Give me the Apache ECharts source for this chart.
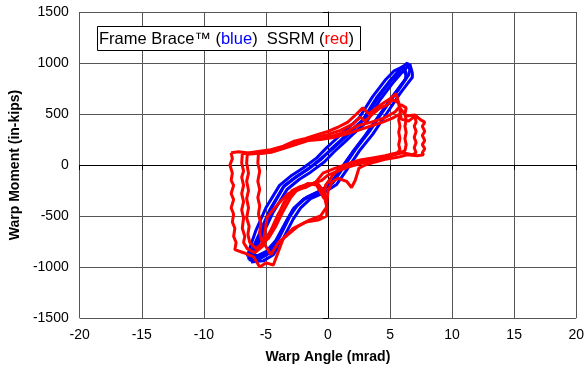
<!DOCTYPE html>
<html>
<head>
<meta charset="utf-8">
<script src="https://cdn.jsdelivr.net/npm/echarts@6/dist/echarts.min.js"></script>
<style>
  html, body {margin: 0; padding: 0; background: #fff;}
  #chart {width: 587px; height: 373px;}
</style>
</head>
<body>
<div id="chart"></div>
<script>
// axis ticks
const xTicks = [-20, -15, -10, -5, 0, 5, 10, 15, 20];
const yTicks = [-1500, -1000, -500, 0, 500, 1000, 1500];

// Frame Brace (blue) - traced cycles, [warp angle mrad, warp moment in-kips]
const blueCycle1 = [[-6.4,-930],[-6.0,-800],[-5.5,-666],[-4.7,-441],[-3.6,-216],[-2.6,-120],[-1.7,-49],[-0.6,50],[0.2,150],[1.0,240],[1.7,323],[2.8,440],[3.9,657],[4.9,813],[5.6,910],[6.0,960],[6.4,1000],
  [6.6,930],[6.5,882],[6.0,800],[5.5,715],[4.4,520],[3.3,323],[2.3,167],[1.2,-30],[0.4,-176],[-0.6,-250],[-1.7,-314],[-2.5,-400],[-3.1,-510],[-3.9,-706],[-4.7,-862],[-5.5,-920],[-6.4,-930]];
const blueCycle2 = [[-6.5,-900],[-6.2,-780],[-5.8,-640],[-5.0,-420],[-3.9,-200],[-2.9,-100],[-2.0,-30],[-0.9,70],[-0.1,170],[0.7,260],[1.4,340],[2.5,460],[3.6,670],[4.6,830],[5.3,920],[5.8,950],[6.1,970],
  [6.3,900],[6.3,850],[5.8,770],[5.3,690],[4.2,500],[3.1,300],[2.1,140],[1.0,-50],[0.2,-190],[-0.8,-265],[-1.9,-330],[-2.7,-420],[-3.3,-540],[-4.1,-730],[-4.9,-870],[-5.7,-910],[-6.5,-900]];
const blueCycle3 = [[-6.2,-950],[-5.8,-820],[-5.3,-690],[-4.4,-460],[-3.3,-240],[-2.3,-140],[-1.4,-70],[-0.3,30],[0.5,130],[1.3,220],[2.0,300],[3.1,420],[4.2,640],[5.2,800],[5.9,900],[6.3,950],[6.6,990],
  [6.8,900],[6.8,860],[6.3,780],[5.8,700],[4.7,500],[3.6,300],[2.6,150],[1.5,-50],[0.7,-190],[-0.3,-270],[-1.4,-330],[-2.2,-420],[-2.8,-530],[-3.6,-720],[-4.4,-880],[-5.2,-940],[-6.2,-950]];
const blueCycle4 = [[-6.0,-880],[-5.7,-760],[-5.2,-620],[-4.5,-410],[-3.5,-200],[-2.5,-110],[-1.5,-30],[-0.5,70],[0.4,160],[1.2,250],[1.9,330],[3.0,460],[4.1,670],[5.1,830],[5.7,900],[6.1,930],[6.2,940],
  [6.3,880],[6.2,830],[5.7,740],[5.2,660],[4.1,480],[3.0,290],[2.0,130],[0.9,-60],[0.1,-200],[-0.9,-280],[-2.0,-340],[-2.8,-430],[-3.4,-560],[-4.2,-740],[-5.0,-850],[-5.7,-890],[-6.0,-880]];

// SSRM (red) - traced cycles
const redCycle1 = [[-7.8,120],[-7.2,130],[-6.4,118],[-5.5,135],[-4.6,150],[-3.6,185],[-2.8,230],[-1.8,260],[-0.8,300],[0,330],[0.8,370],[1.6,420],[2.3,500],[2.8,560],[3.3,500],[3.9,560],[4.5,610],[5.0,650],[5.5,700],[5.8,560],[6.3,480],[7.0,490],[7.5,440],
  [7.8,420],[7.6,380],[7.8,330],[7.6,290],[7.8,240],[7.6,200],[7.8,160],[7.6,120],[7.7,100],[7.2,90],[6.4,100],[5.6,75],[4.6,55],[3.8,30],[3.0,0],[2.5,-30],[2.2,-150],[1.9,-220],[1.5,-160],[0.8,-130],[0.3,-170],[0,-260],[-0.1,-380],[-0.1,-500],
  [-0.8,-540],[-1.8,-560],[-2.8,-620],[-3.6,-720],[-4.0,-850],[-4.4,-980],[-5.0,-960],[-5.5,-1000],[-6.0,-900],[-6.8,-860],[-7.5,-830],
  [-7.4,-760],[-7.6,-700],[-7.5,-620],[-7.7,-560],[-7.6,-480],[-7.8,-420],[-7.6,-340],[-7.8,-280],[-7.6,-200],[-7.8,-150],[-7.7,-80],[-7.9,0],[-7.7,60],[-7.8,120]];
const redCycle2 = [[-6.9,110],[-6.0,120],[-5.0,130],[-4.0,160],[-3.0,200],[-2.0,240],[-1.0,270],[0,300],[1.0,340],[2.0,400],[2.6,470],[3.0,430],[3.6,500],[4.2,560],[4.8,590],[5.2,640],[5.7,610],[5.9,450],[6.5,430],[7.0,480],
  [7.1,420],[6.95,380],[7.1,330],[6.95,270],[7.1,220],[6.95,170],[7.1,120],[6.8,100],[6.0,120],[5.2,100],[4.3,70],[3.4,40],[2.5,10],[1.6,-20],[0.8,-60],[0,-100],[-0.5,-150],[-1.2,-180],[-2.2,-210],[-2.9,-250],[-3.6,-380],[-4.2,-560],[-4.8,-700],[-5.3,-800],[-5.9,-860],[-6.5,-820],
  [-6.8,-760],[-6.7,-700],[-6.9,-620],[-6.8,-520],[-6.95,-440],[-6.8,-360],[-6.95,-280],[-6.8,-200],[-6.95,-120],[-6.8,-60],[-6.95,20],[-6.9,110]];
const redCycle3 = [[-6.5,105],[-5.5,115],[-4.5,130],[-3.5,170],[-2.5,210],[-1.5,250],[-0.5,260],[0.5,290],[1.5,330],[2.5,390],[3.5,420],[4.5,460],[5.4,520],[5.9,590],[6.3,560],
  [6.2,500],[6.3,440],[6.2,380],[6.3,320],[6.2,260],[6.3,200],[6.2,140],[5.6,110],[4.8,80],[3.6,60],[2.6,40],[1.6,10],[0.6,-30],[-0.4,-80],[-1.0,-170],[-1.8,-220],[-2.6,-240],[-3.3,-330],[-4.0,-480],[-4.6,-640],[-5.2,-760],[-5.8,-820],
  [-6.3,-760],[-6.45,-680],[-6.35,-600],[-6.55,-520],[-6.4,-420],[-6.55,-330],[-6.4,-250],[-6.55,-160],[-6.4,-80],[-6.55,20],[-6.5,105]];
const redCycle4 = [[-5.6,110],[-4.6,125],[-3.6,160],[-2.6,200],[-1.6,240],[-0.6,250],[0.4,270],[1.4,300],[2.4,340],[3.4,380],[4.4,420],[5.2,460],[5.8,500],
  [5.7,440],[5.8,380],[5.7,320],[5.8,260],[5.7,200],[5.8,150],[5.6,120],[4.6,90],[3.6,70],[2.6,50],[1.8,20],[1.0,-20],[0.4,-100],[-0.2,-200],[-0.3,-330],[-0.9,-200],[-1.6,-180],[-2.4,-230],[-3.0,-320],[-3.6,-450],[-4.2,-600],[-4.8,-720],[-5.3,-760],
  [-5.5,-660],[-5.4,-580],[-5.6,-480],[-5.5,-400],[-5.65,-320],[-5.5,-240],[-5.65,-160],[-5.5,-60],[-5.65,20],[-5.6,110]];
const redCycle5 = [[-5.2,-760],[-4.9,-510],[-4.0,-380],[-3.2,-280],[-2.3,-240],[-1.5,-190],[-0.9,-170],[-0.4,-250],[-0.1,-410],[-0.6,-500],[-1.5,-540],[-2.4,-600],[-3.2,-680],[-4.0,-760],[-4.6,-880],[-5.2,-760]];

const blueCycles = [blueCycle1, blueCycle2, blueCycle3, blueCycle4];
const redCycles = [redCycle1, redCycle2, redCycle3, redCycle4, redCycle5];

const chart = echarts.init(document.getElementById("chart"), null, {renderer: "canvas"});

const makeSeries = (data, color, width) => ({
  type: "line",
  data: data,
  showSymbol: false,
  silent: true,
  lineStyle: {color: color, width: width},
});

const gridColor = "#555";
const font = "'Liberation Sans', Arial, sans-serif";

const option = {
  animation: false,
  backgroundColor: "#fff",
  grid: {left: 79, right: 9, top: 12, bottom: 55},
  xAxis: {
    type: "value",
    min: xTicks[0],
    max: xTicks[xTicks.length - 1],
    interval: 5,
    name: "Warp Angle (mrad)",
    nameLocation: "middle",
    nameGap: 32,
    nameTextStyle: {fontFamily: font, fontSize: 14, fontWeight: "bold", color: "#000"},
    axisLine: {lineStyle: {color: "#000", width: 1}},
    axisTick: {show: true, length: 5, lineStyle: {color: "#000"}},
    axisLabel: {fontFamily: font, fontSize: 14, color: "#000", margin: 10, formatter: v => String(v)},
    splitLine: {show: true, lineStyle: {color: gridColor, width: 1}},
  },
  yAxis: {
    type: "value",
    min: yTicks[0],
    max: yTicks[yTicks.length - 1],
    interval: 500,
    name: "Warp Moment (in-kips)",
    nameLocation: "middle",
    nameGap: 54,
    nameTextStyle: {fontFamily: font, fontSize: 14, fontWeight: "bold", color: "#000"},
    axisLine: {show: true, lineStyle: {color: "#000", width: 1}},
    axisTick: {show: true, length: 5, lineStyle: {color: "#000"}},
    axisLabel: {fontFamily: font, fontSize: 14, color: "#000", margin: 11, formatter: v => String(v)},
    splitLine: {show: true, lineStyle: {color: gridColor, width: 1}},
  },
  graphic: [
    {
      type: "rect",
      shape: {x: 97.5, y: 26.5, width: 263, height: 24},
      style: {fill: "#fff", stroke: "#000", lineWidth: 1},
      z: 100,
    },
    {
      type: "text",
      x: 99,
      y: 39,
      z: 101,
      style: {
        text: "{k|Frame Brace™ (}{b|blue}{k|)  SSRM (}{r|red}{k|)}",
        verticalAlign: "middle",
        rich: {
          k: {fontFamily: font, fontSize: 16.5, fill: "#000"},
          b: {fontFamily: font, fontSize: 16.5, fill: "#0000ff"},
          r: {fontFamily: font, fontSize: 16.5, fill: "#ff0000"},
        },
      },
    },
  ],
  series: [
    ...blueCycles.map(c => makeSeries(c, "#0000ff", 3)),
    ...redCycles.map(c => makeSeries(c, "#ff0000", 3)),
  ],
};

chart.setOption(option);
</script>
</body>
</html>
